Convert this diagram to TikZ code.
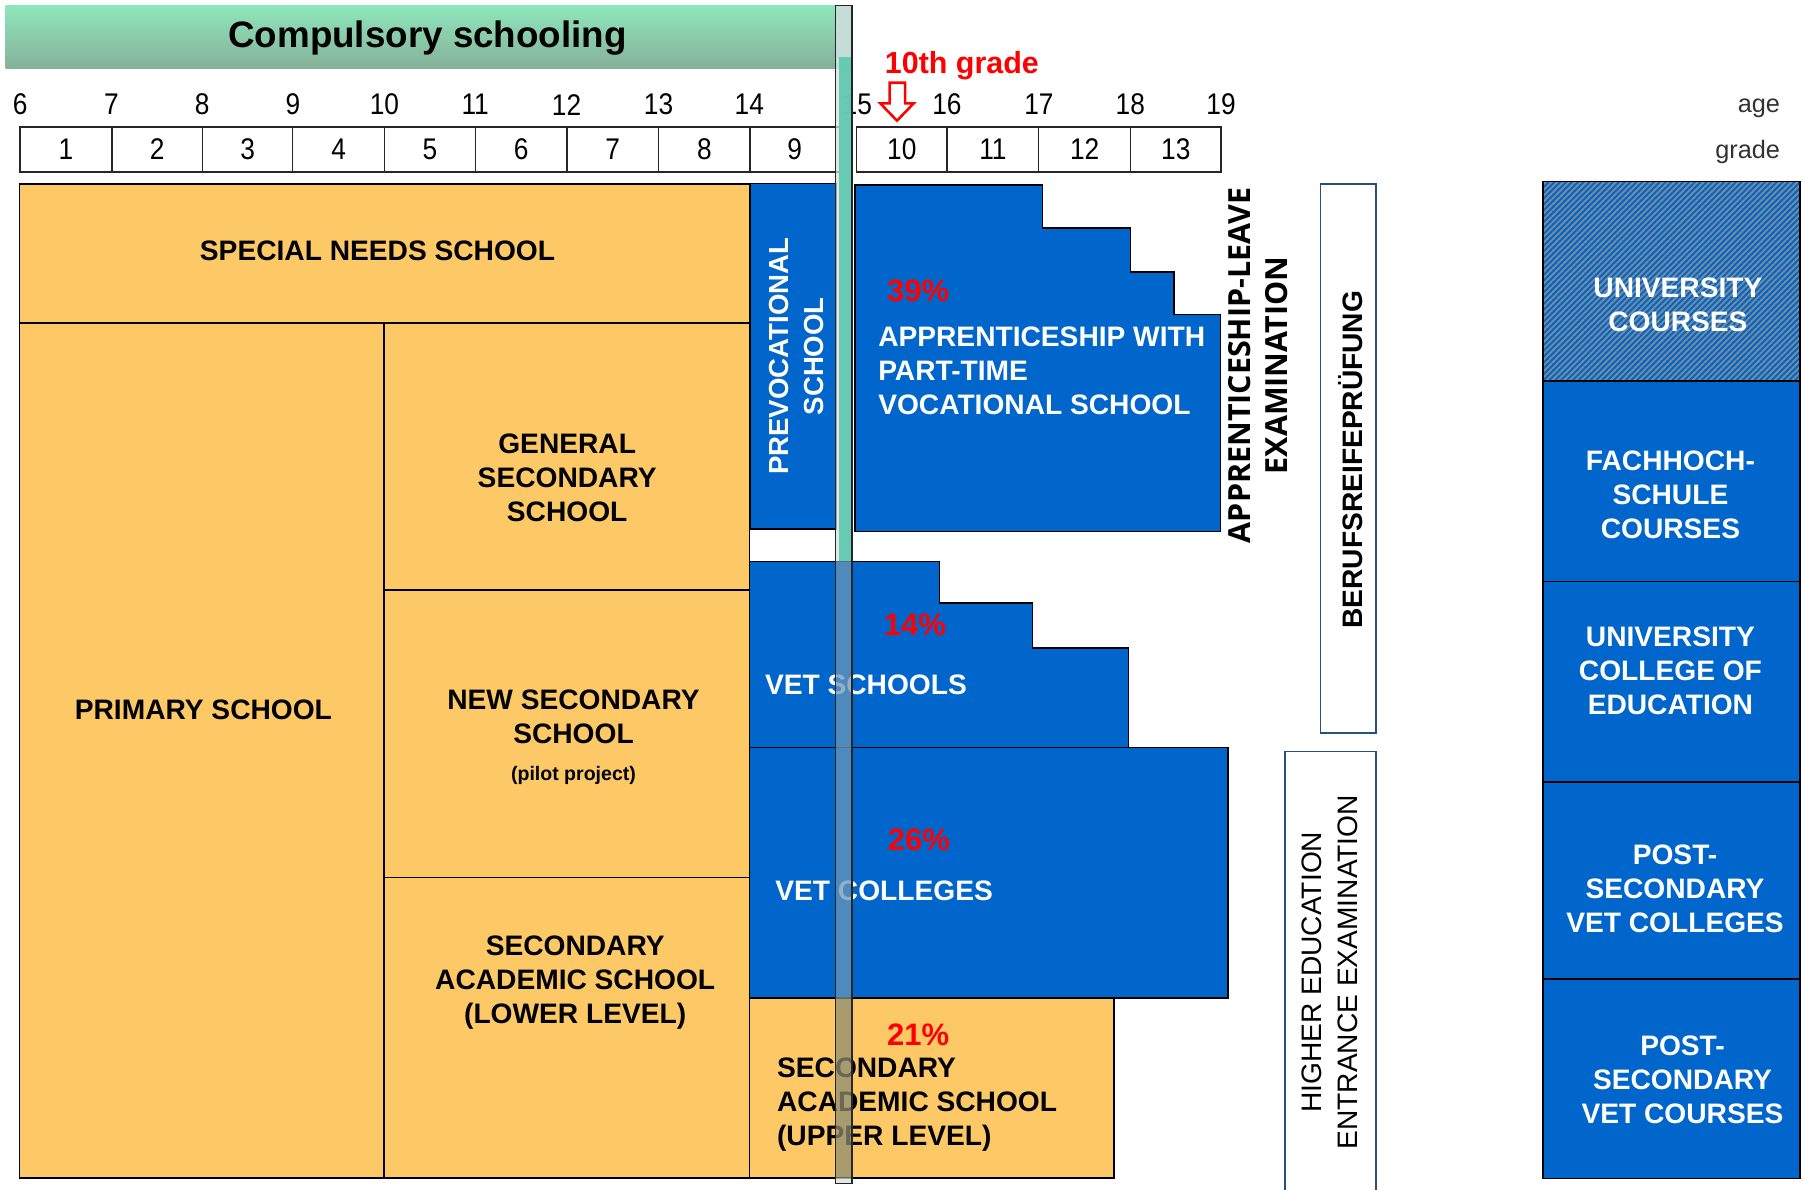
\documentclass[tikz,border=0pt]{standalone}
\usepackage{fontspec}
\setmainfont{Liberation Sans}
\newfontfamily\osans{Open Sans}
\newfontfamily\digfont[FakeStretch=0.88]{Liberation Sans}
\usetikzlibrary{patterns.meta}
\definecolor{yel}{RGB}{253,200,102}
\definecolor{blu}{RGB}{0,102,204}
\definecolor{gtop}{RGB}{142,230,188}
\definecolor{gbot}{RGB}{134,176,152}
\definecolor{exb}{RGB}{40,80,125}
\definecolor{hatchc}{RGB}{125,140,150}
\definecolor{barG}{RGB}{177,209,202}
\definecolor{barW}{RGB}{215,224,221}
\definecolor{barB}{RGB}{107,151,185}
\definecolor{barY}{RGB}{140,140,113}
\definecolor{teal}{RGB}{92,201,174}
\definecolor{lbl}{RGB}{50,50,50}
\newcommand\setfs[2]{\fontsize{#1}{#2}\selectfont}
\begin{document}
\begin{tikzpicture}[x=1pt,y=-1pt,
  yb/.style={fill=yel,draw=black,line width=1.3pt},
  bb/.style={fill=blu,draw=black,line width=1.3pt},
  txt/.style={inner sep=0pt,align=center,font=\setfs{24.5}{29.6}\bfseries},
  wtxt/.style={txt,text=white},
  ltxt/.style={anchor=west,align=left},
  pct/.style={inner sep=0pt,font=\setfs{27}{30}\bfseries,text=red},
  digit/.style={inner sep=0pt,font=\digfont\setfs{26}{28}},
  gridcell/.style={draw=black!85,line width=1.3pt,fill=white},
  exbox/.style={draw=exb,line width=1.5pt,fill=white},
  lbltxt/.style={inner sep=0pt,font=\setfs{22}{26},text=lbl}
]
\useasboundingbox (0,0) rectangle (1568,1035);

% ---------- header ----------
\shade[top color=gtop,bottom color=gbot] (5,5) rectangle (727,60);
\node[inner sep=0pt,font=\setfs{32}{36}\bfseries] (cs) at (372,33) {Compulsory schooling};

\foreach \a/\x in {6/17.5,7/97,8/176,9/255,10/334.5,11/413.5,12/493,13/573,14/652,15/746,16/824,17/904,18/983.5,19/1062.5}
  \node[digit] (age\a) at (\x,91) {\a};

\foreach \g/\l/\r in {1/17.5/97.4,2/97.4/176.3,3/176.3/254.7,4/254.7/334.7,5/334.7/413.6,6/413.6/493.4,7/493.4/572.9,8/572.9/652.8,9/652.8/730.3,10/745.2/824.2,11/824.2/903.8,12/903.8/983.8,13/983.8/1062.4}
{
  \draw[gridcell] (\l,110.5) rectangle (\r,149.5);
  \node[digit] (grade\g) at ({(\l+\r)/2},130) {\g};
}

\node[lbltxt,anchor=base east] (agelbl) at (1549,98) {age};
\node[lbltxt,anchor=base east] (gradelbl) at (1549,138) {grade};

\node[inner sep=0pt,font=\setfs{26.5}{30}\bfseries,text=red] (tenth) at (837,57) {10th grade};
\draw[red,line width=2.2pt,fill=white,line join=miter]
  (774,72) -- (787.5,72) -- (787.5,90) -- (795,90) -- (780.5,105) -- (766,90) -- (774,90) -- cycle;

% ---------- yellow (general) blocks ----------
\draw[yb] (17,160) rectangle (652,281);
\node[txt] (sns) at (328.5,218) {SPECIAL NEEDS SCHOOL};
\draw[yb] (17,281) rectangle (334.3,1025);
\node[txt] (prim) at (177,617.5) {PRIMARY SCHOOL};
\draw[yb] (334.3,281) rectangle (652,513.5);
\node[txt] (gss) at (493.5,416) {GENERAL\\SECONDARY\\SCHOOL};
\draw[yb] (334.3,513.5) rectangle (652,763.5);
\node[txt] (nss) at (499,623.5) {NEW SECONDARY\\SCHOOL};
\node[inner sep=0pt,font=\setfs{17}{20}\bfseries] (pilot) at (499,674.5) {(pilot project)};
\draw[yb] (334.3,763.5) rectangle (652,1025);
\node[txt] (sasl) at (500.5,855) {SECONDARY\\ACADEMIC SCHOOL\\(LOWER LEVEL)};

\draw[yb] (652,868.5) rectangle (969.5,1025);
\node[txt,ltxt] (sasu) at (676,961.5) {SECONDARY\\ACADEMIC SCHOOL\\(UPPER LEVEL)};
\node[pct] (p21) at (799,900.5) {21\%};

% ---------- blue (VET) blocks ----------
\draw[bb] (652.5,159.5) rectangle (727.4,460.3);
\node[wtxt,rotate=90,font=\setfs{24}{30}\bfseries] (prevoc) at (693,310) {PREVOCATIONAL\\SCHOOL};

\draw[bb] (744,161) -- (907,161) -- (907,198.5) -- (983.5,198.5) -- (983.5,236.5)
  -- (1021.5,236.5) -- (1021.5,273.5) -- (1062,273.5) -- (1062,462.6) -- (744,462.6) -- cycle;
\node[pct] (p39) at (799,253) {39\%};
\node[wtxt,ltxt] (appr) at (764,323) {APPRENTICESHIP WITH\\PART-TIME\\VOCATIONAL SCHOOL};

\draw[bb] (652,488.5) -- (817.5,488.5) -- (817.5,524.5) -- (898.5,524.5) -- (898.5,564)
  -- (982,564) -- (982,650.5) -- (652,650.5) -- cycle;
\node[pct] (p14) at (796,543.5) {14\%};
\node[wtxt,ltxt] (vets) at (665.5,596) {VET SCHOOLS};

\draw[bb] (652,650.5) rectangle (1068.5,868.5);
\node[pct] (p26) at (799.5,730.5) {26\%};
\node[wtxt,ltxt] (vetc) at (674.5,775) {VET COLLEGES};

% ---------- examinations ----------
\node[rotate=90,inner sep=0pt,align=center,font=\osans\bfseries\setfs{26.5}{32}] (ale) at (1095,318)
  {APPRENTICESHIP-LEAVE\\EXAMINATION};
\draw[exbox] (1149,160) rectangle (1197,638);
\node[txt,rotate=90,font=\setfs{24.5}{29}\bfseries] (brp) at (1175,400) {BERUFSREIFEPRÜFUNG};
\draw[exbox] (1118,654) rectangle (1197,1045);
\node[rotate=90,inner sep=0pt,align=center,font=\setfs{24.5}{31}] (hee) at (1157,846)
  {HIGHER EDUCATION\\ENTRANCE EXAMINATION};

% ---------- tertiary column ----------
\fill[blu] (1342.5,158) rectangle (1566,331.5);
\fill[pattern={Lines[angle=45,distance=3.6pt,line width=1.6pt]},pattern color=hatchc] (1342.5,158) rectangle (1566,331.5);
\draw[black,line width=1.6pt] (1342.5,158) rectangle (1566,331.5);
\node[wtxt] (uni) at (1460,265.5) {UNIVERSITY\\COURSES};
\draw[bb,line width=1.6pt] (1342.5,331.5) rectangle (1566,506);
\node[wtxt] (fh) at (1453.5,430.7) {FACHHOCH-\\SCHULE\\COURSES};
\draw[bb,line width=1.6pt] (1342.5,506) rectangle (1566,680.5);
\node[wtxt] (uce) at (1453.5,583.5) {UNIVERSITY\\COLLEGE OF\\EDUCATION};
\draw[bb,line width=1.6pt] (1342.5,680.5) rectangle (1566,852);
\node[wtxt] (psvc) at (1457.5,773.8) {POST-\\SECONDARY\\VET COLLEGES};
\draw[bb,line width=1.6pt] (1342.5,852) rectangle (1566,1025.4);
\node[wtxt] (psvk) at (1464,939.5) {POST-\\SECONDARY\\VET COURSES};

% ---------- end of compulsory schooling bar ----------
\fill[barG,opacity=0.75] (727,5) rectangle (741.4,60);
\fill[barW,opacity=0.75] (727,60) rectangle (741.4,488.5);
\fill[barB,opacity=0.75] (727,488.5) rectangle (741.4,868.5);
\fill[barY,opacity=0.75] (727,868.5) rectangle (741.4,1025);
\fill[barW,opacity=0.75] (727,1025) rectangle (741.4,1030);
\fill[teal,opacity=0.92] (730.3,50) rectangle (742.5,488);
\draw[black!85,line width=1.3pt] (727,5) rectangle (741.4,1030);
\end{tikzpicture}
\end{document}
